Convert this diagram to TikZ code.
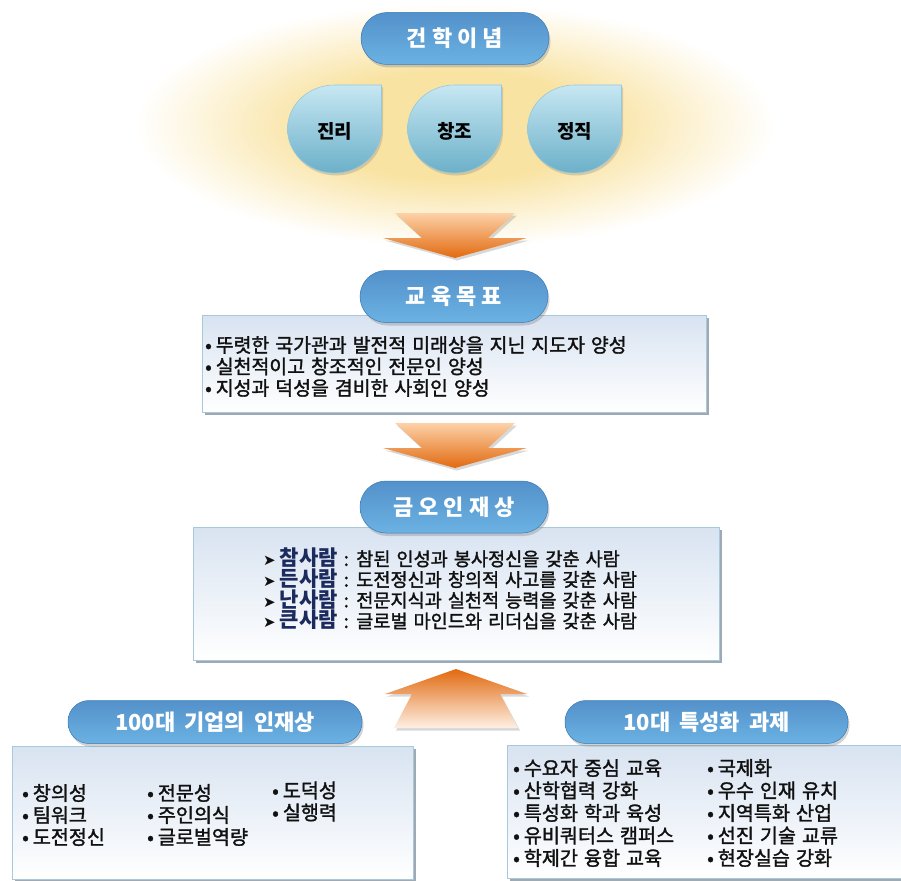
\documentclass[tikz,border=0pt]{standalone}
\usepackage{fontspec}
\setmainfont{Noto Sans CJK KR}
\newfontfamily\bodyfont{Noto Sans CJK KR}[FakeBold=1.6]
\newfontfamily\dejavu{DejaVu Sans}
\usetikzlibrary{shadows}
\definecolor{glow}{HTML}{F9E3A2}
\definecolor{pilltop}{HTML}{5391CA}
\definecolor{pillmid}{HTML}{2F6DAA}
\definecolor{pillbot}{HTML}{6BB2E3}
\definecolor{pilledge}{HTML}{3C7AB5}
\definecolor{boxtop}{HTML}{D8E3F1}
\definecolor{boxedge}{HTML}{A7C9DB}
\definecolor{shadowgray}{HTML}{8E9BA6}
\definecolor{droptop}{HTML}{C6E7F2}
\definecolor{dropbot}{HTML}{6CB0C9}
\definecolor{dropedge}{HTML}{95C9DA}
\definecolor{arrowdark}{HTML}{E26A10}
\definecolor{arrowlight}{HTML}{FCE6D2}
\definecolor{navy}{HTML}{1C2B5E}
\definecolor{bodytext}{HTML}{111111}
\newcommand\widespace{\spaceskip=6pt plus 1pt\relax}
\newcommand\titlespace{\spaceskip=9pt plus 1pt\relax}
\pgfdeclareradialshading{glowshade}{\pgfpoint{0bp}{0bp}}{color(0bp)=(glow); color(11bp)=(glow); color(25bp)=(white); color(50bp)=(white)}
\tikzset{
  pill/.style={draw=pilledge, line width=0.5pt, top color=pilltop, middle color=pillmid, bottom color=pillbot,
    text=white, font=\bfseries\fontsize{22}{24}\selectfont, inner sep=0pt, rounded corners=26pt,
    minimum width=188pt, minimum height=52pt,
    drop shadow={shadow xshift=1.5pt, shadow yshift=-3pt, opacity=0.35}},
  smallpill/.style={pill, rounded corners=21pt, minimum height=43pt,
    font=\bfseries\fontsize{22}{23}\selectfont\titlespace},
  infobox/.style={draw=boxedge, line width=0.8pt, top color=boxtop, bottom color=white, inner sep=0pt,
    drop shadow={shadow xshift=3pt, shadow yshift=-3pt, fill=shadowgray, opacity=0.85}},
  blockarrow/.style={top color=#1, bottom color=arrowlight, draw=none,
    drop shadow={shadow xshift=2pt, shadow yshift=-2.5pt, opacity=0.3}},
  leaf/.style={draw=dropedge, line width=0.6pt, top color=droptop, bottom color=dropbot,
    drop shadow={shadow xshift=1.5pt, shadow yshift=-2.5pt, opacity=0.3}},
  leaftext/.style={font=\bfseries\fontsize{19}{20}\selectfont, text=black},
  bodylines/.style 2 args={anchor=west, align=left, inner sep=0pt, text=bodytext,
    font=\bodyfont\fontsize{#1}{#2}\selectfont\widespace},
}
\newcommand\leafshape[1]{%
  \begin{scope}[shift={#1}]
    \path[leaf] (47,-44) -- (0,-44) .. controls (-26,-44) and (-47,-24.3) .. (-47,0)
      .. controls (-47,24.3) and (-26,44) .. (0,44)
      .. controls (26,44) and (47,24.3) .. (47,0) -- cycle;
  \end{scope}}
\newcommand\bul{•\hspace{4pt}}
\newcommand\namemark[1]{{\dejavu\fontsize{15}{15}\selectfont ➤}\hspace{4pt}{\rmfamily\bfseries\color{navy}\fontsize{21}{20}\selectfont #1}}
\begin{document}
\begin{tikzpicture}[x=1pt,y=-1pt]
\useasboundingbox (0,0) rectangle (901,880);
\fill[white] (0,0) rectangle (901,880);
% glow
\shade[shading=glowshade] (455,125) ellipse (320 and 122);
% top pill and drops
\node[pill] (p1) at (455,38.5) {건 학 이 념};
\leafshape{(334.5,129)}
\leafshape{(454.5,129)}
\leafshape{(574.5,129)}
\node[leaftext] (d1) at (334.5,131) {진리};
\node[leaftext] (d2) at (454.5,131) {창조};
\node[leaftext] (d3) at (574.5,131) {정직};
% arrow 1
\begin{scope}[shift={(455,213)}]
  \path[blockarrow=arrowlight, top color=arrowlight!80!orange, bottom color=arrowdark]
    (-60,0) -- (60,0) -- (33,25) -- (72,25) -- (0,45) -- (-72,25) -- (-33,25) -- cycle;
\end{scope}
% box 1
\node[infobox, minimum width=504pt, minimum height=97pt] (b1) at (454,363.5) {};
\node[pill] (p2) at (454,296.5) {교 육 목 표};
\node[bodylines={19.4}{21.5}] (t1) at (205,366.5) {\bul 뚜렷한 국가관과 발전적 미래상을 지닌 지도자 양성\\\bul 실천적이고 창조적인 전문인 양성\\\bul 지성과 덕성을 겸비한 사회인 양성};
% arrow 2
\begin{scope}[shift={(455,423)}]
  \path[blockarrow=arrowlight, top color=arrowlight!80!orange, bottom color=arrowdark]
    (-60,0) -- (60,0) -- (33,25) -- (72,25) -- (0,45) -- (-72,25) -- (-33,25) -- cycle;
\end{scope}
% box 2
\node[infobox, minimum width=526pt, minimum height=133pt] (b2) at (456,593.5) {};
\node[pill] (p3) at (454,507) {금 오 인 재 상};
\node[bodylines={18.6}{20.7}] (t2) at (263,589) {%
\namemark{참사람} : 참된 인성과 봉사정신을 갖춘 사람\\
\namemark{든사람} : 도전정신과 창의적 사고를 갖춘 사람\\
\namemark{난사람} : 전문지식과 실천적 능력을 갖춘 사람\\
\namemark{큰사람} : 글로벌 마인드와 리더십을 갖춘 사람};
% arrow 3 (up)
\begin{scope}[shift={(456,669)}]
  \path[blockarrow=arrowdark, bottom color=arrowlight!60!white]
    (0,0) -- (71,25) -- (44,25) -- (62,59) -- (-62,59) -- (-44,25) -- (-71,25) -- cycle;
\end{scope}
% bottom left
\node[infobox, minimum width=401pt, minimum height=133pt] (b3) at (212.5,812.5) {};
\node[smallpill, minimum width=294pt] (p4) at (215,722) {100대 기업의 인재상};
\node[bodylines={19.6}{22}] (t3a) at (22,815) {\bul 창의성\\\bul 팀워크\\\bul 도전정신};
\node[bodylines={19.6}{22}] (t3b) at (147,815) {\bul 전문성\\\bul 주인의식\\\bul 글로벌역량};
\node[bodylines={19.6}{22}] (t3c) at (272,815) {\bul 도덕성\\\bul 실행력\\\strut};
% bottom right
\node[infobox, minimum width=400pt, minimum height=133pt] (b4) at (707,811.5) {};
\node[smallpill, minimum width=283pt] (p5) at (706.5,722) {10대 특성화 과제};
\node[bodylines={19.6}{22.5}] (t4a) at (513,813) {\bul 수요자 중심 교육\\\bul 산학협력 강화\\\bul 특성화 학과 육성\\\bul 유비쿼터스 캠퍼스\\\bul 학제간 융합 교육};
\node[bodylines={19.6}{22.5}] (t4b) at (707,813) {\bul 국제화\\\bul 우수 인재 유치\\\bul 지역특화 산업\\\bul 선진 기술 교류\\\bul 현장실습 강화};
\end{tikzpicture}
\end{document}
